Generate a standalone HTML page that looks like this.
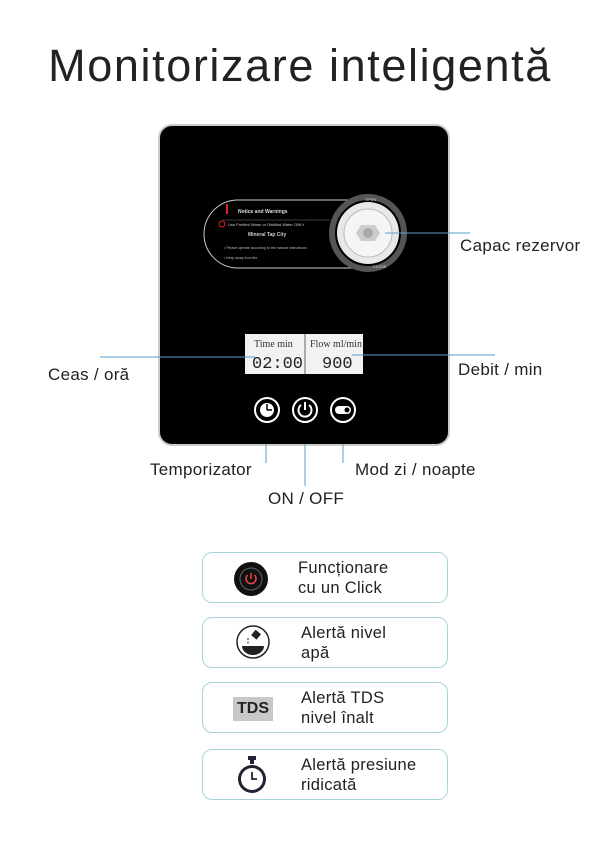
<!DOCTYPE html>
<html><head><meta charset="utf-8"><style>
body{margin:0;width:600px;height:843px;background:#fff;position:relative;font-family:"Liberation Sans",sans-serif;overflow:hidden}
.a{position:absolute}
.t{color:#222;font-size:17px;letter-spacing:0.3px}
.card{position:absolute;left:202px;width:246px;height:51px;border:1.5px solid #a9d5da;border-radius:10px;box-sizing:border-box}
.card .tx{position:absolute;left:98px;top:5px;font-size:16.5px;line-height:20px;color:#222;letter-spacing:0.3px}
</style></head><body>
<div class="a" style="left:0;width:600px;top:40px;text-align:center;font-size:45px;color:#222;letter-spacing:1.6px">Monitorizare inteligentă</div>

<div class="a" style="left:158px;top:124px;width:292px;height:322px;background:#000;border-radius:14px;border:2px solid #ccc;box-sizing:border-box"></div>
<svg class="a" style="left:0;top:0" width="600" height="843">
 <path d="M238 200 H352 M238 268 H352 M238 200 A34 34 0 0 0 238 268" stroke="#ccc" stroke-width="1" fill="none"/>
 <text x="238" y="213" font-size="5" fill="#ddd" font-weight="bold">Notice and Warnings</text>
 <line x1="227" y1="204" x2="227" y2="214" stroke="#d22" stroke-width="2"/>
 <line x1="222" y1="220" x2="330" y2="220" stroke="#777" stroke-width="0.5"/>
 <circle cx="222" cy="224" r="3" fill="none" stroke="#d22"/>
 <text x="228" y="226" font-size="4" fill="#ccc">Use Purified Water or Distilled Water ONLY</text>
 <text x="248" y="236" font-size="5" fill="#ccc" font-weight="bold">Mineral  Tap City</text>
 <text x="224" y="249" font-size="3.5" fill="#bbb">• Please operate according to the manual instructions</text>
 <text x="224" y="259" font-size="3.5" fill="#bbb">• Keep away from fire</text>
 <circle cx="368" cy="233" r="36" fill="none" stroke="#555" stroke-width="6"/>
 <circle cx="368" cy="233" r="31" fill="#e8e8e8"/>
 <circle cx="368" cy="233" r="24" fill="#f5f5f5" stroke="#bbb"/>
 <polygon points="361,225 375,225 380,233 375,241 361,241 356,233" fill="#ccc"/>
 <circle cx="368" cy="233" r="5" fill="#aaa"/>
 <text x="365" y="201" font-size="4" fill="#ddd">OPEN</text>
 <text x="373" y="268" font-size="4" fill="#ddd">CLOSE</text>
 <rect x="245" y="334" width="118" height="40" fill="#f2f2f2"/>
 <line x1="305" y1="334" x2="305" y2="374" stroke="#666"/>
 <text x="254" y="347" font-size="10" font-family="Liberation Serif" fill="#333">Time  min</text>
 <text x="310" y="347" font-size="10" font-family="Liberation Serif" fill="#333">Flow  ml/min</text>
 <text x="252" y="368" font-size="17" font-family="Liberation Mono" fill="#222">02:00</text>
 <text x="322" y="368" font-size="17" font-family="Liberation Mono" fill="#222">900</text>
 <g fill="none" stroke="#fff" stroke-width="2"><circle cx="267" cy="410" r="12"/><circle cx="305" cy="410" r="12"/><circle cx="343" cy="410" r="12"/></g>
 <circle cx="267" cy="410" r="7" fill="#fff"/><path d="M267 410 V404 M267 410 H272" stroke="#000" stroke-width="1.5"/>
 <path d="M301 405 A6.5 6.5 0 1 0 309 405" stroke="#fff" stroke-width="2" fill="none"/><line x1="305" y1="402" x2="305" y2="410" stroke="#fff" stroke-width="2"/>
 <rect x="335" y="406" width="16" height="8" rx="4" fill="#fff"/><circle cx="347" cy="410" r="2.5" fill="#000"/>
 <g stroke="#5a9fd0" stroke-width="1">
  <line x1="385" y1="233" x2="470" y2="233"/>
  <line x1="100" y1="357" x2="255" y2="357"/>
  <line x1="352" y1="355" x2="495" y2="355"/>
  <line x1="266" y1="444" x2="266" y2="463"/>
  <line x1="305" y1="444" x2="305" y2="486"/>
  <line x1="343" y1="444" x2="343" y2="463"/>
 </g>
</svg>
<div class="a t" style="left:460px;top:236px">Capac rezervor</div>
<div class="a t" style="left:48px;top:365px">Ceas / oră</div>
<div class="a t" style="left:458px;top:360px">Debit / min</div>
<div class="a t" style="left:150px;top:460px">Temporizator</div>
<div class="a t" style="left:355px;top:460px">Mod zi / noapte</div>
<div class="a t" style="left:268px;top:489px">ON / OFF</div>

<div class="card" style="top:552px">
 <svg class="a" style="left:30px;top:8px" width="36" height="36"><circle cx="18" cy="18" r="17" fill="#111"/><circle cx="18" cy="18" r="11" fill="none" stroke="#666"/><path d="M14.5 14 A5 5 0 1 0 21.5 14" stroke="#e44" stroke-width="1.5" fill="none"/><line x1="18" y1="12" x2="18" y2="18" stroke="#e44" stroke-width="1.5"/></svg>
 <div class="tx" style="left:95px">Funcționare<br>cu un Click</div></div>
<div class="card" style="top:617px">
 <svg class="a" style="left:32px;top:6px" width="36" height="36"><circle cx="18" cy="18" r="16" fill="none" stroke="#222" stroke-width="1.5"/><path d="M7 22 H29 A11 9 0 0 1 7 22Z" fill="#222"/><rect x="18" y="7" width="7" height="7" transform="rotate(40 21 10)" fill="#222"/><line x1="13" y1="14" x2="13" y2="20" stroke="#222" stroke-dasharray="2 1.5"/></svg>
 <div class="tx">Alertă nivel<br>apă</div></div>
<div class="card" style="top:682px">
 <div class="a" style="left:30px;top:14px;width:40px;height:24px;background:#c8c8c8;font-weight:bold;font-size:16px;text-align:center;line-height:24px;color:#222">TDS</div>
 <div class="tx">Alertă TDS<br>nivel înalt</div></div>
<div class="card" style="top:749px">
 <svg class="a" style="left:32px;top:4px" width="34" height="42"><rect x="13" y="2" width="8" height="4" fill="#223"/><rect x="15" y="5" width="4" height="5" fill="#223"/><circle cx="17" cy="25" r="14" fill="#223"/><circle cx="17" cy="25" r="11" fill="#fff"/><path d="M17 18 V25 H22" stroke="#223" stroke-width="1.8" fill="none"/></svg>
 <div class="tx">Alertă presiune<br>ridicată</div></div>
</body></html>
